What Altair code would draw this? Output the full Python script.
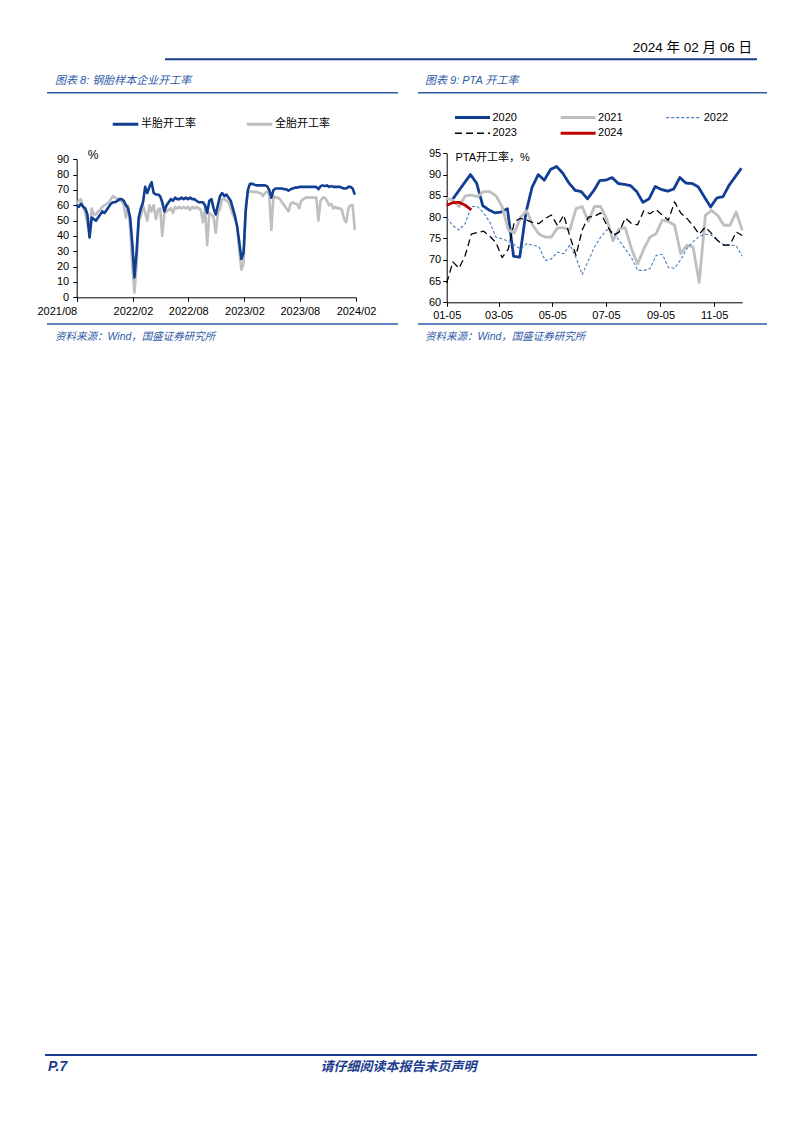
import altair as alt
import pandas as pd

# ------------------------------------------------------------------ page texts
report_date = "2024 年 02 月 06 日"
fig8_title = "图表 8: 钢胎样本企业开工率"
fig9_title = "图表 9: PTA 开工率"
source_note = "资料来源：Wind，国盛证券研究所"
page_label = "P.7"
footer_note = "请仔细阅读本报告末页声明"

# ------------------------------------------------------------------ chart 8 data (weekly)
tyre_series = ["半胎开工率", "全胎开工率"]
tyre_start = "2021-08-01"
semi_steel = [60, 59, 61, 59, 58, 54, 39, 52, 51, 50,
              52, 54, 56, 55, 57, 59, 61, 62, 62, 63,
              64, 64, 63, 60, 58, 52, 35, 13, 30, 52,
              58, 62, 72, 68, 72, 75, 68, 67, 67, 66,
              62, 56, 60, 62, 64, 63, 65, 64, 64, 65,
              64, 65, 64, 65, 64, 64, 63, 62, 62, 62,
              60, 55, 63, 64, 58, 54, 60, 66, 68, 66,
              67, 65, 63, 58, 53, 46, 36, 25, 29, 56,
              70, 74, 74, 73.5, 73, 73, 73, 73, 73, 72.5,
              70, 65, 70, 71, 71, 71, 71, 70.5, 70.5, 69.5,
              70.5, 71, 71.5, 71.5, 72, 72, 72, 72, 72, 72,
              72, 72, 72, 70.5, 72.5, 73, 72.5, 73, 72, 72.5,
              72, 72, 72, 72, 71.5, 71, 71, 72, 72, 71,
              67]
all_steel = [61, 63, 64, 59, 55, 48, 41, 58, 54, 54,
             56, 57, 59, 60, 61, 62, 64, 66, 65, 64,
             63, 63, 60, 52, 60, 45, 20, 3, 22, 50,
             53, 60, 55, 50, 60, 56, 60, 51, 57, 58,
             40, 55, 56, 57, 58, 55, 59, 58, 59, 58,
             59, 58, 59, 57, 59, 58, 59, 58, 57, 49,
             58, 34, 55, 54, 52, 42, 55, 58, 64, 64,
             63, 62, 58, 54, 51, 47, 30, 18, 22, 60,
             68, 69, 69, 68.5, 69, 68, 68, 66, 68, 69,
             67, 44, 66, 65, 65, 64, 62, 60, 58, 56,
             61, 62, 61, 61, 58, 63, 64, 65, 65, 65,
             65, 65, 65, 50, 63, 65, 65, 63, 60, 61,
             58, 59, 58, 58, 57, 51, 49, 58, 60, 60,
             44]
tyre_unit = "%"
tyre_axis_range = ["2021-08-01", "2024-02-01"]
tyre_ticks = ["2021-08-01", "2022-02-01", "2022-08-01", "2023-02-01", "2023-08-01", "2024-02-01"]
tyre_y_ticks = [0, 10, 20, 30, 40, 50, 60, 70, 80, 90]

# ------------------------------------------------------------------ chart 9 data (weekly, one axis year)
pta_years = ["2020", "2021", "2022", "2023", "2024"]
pta_starts = ["2001-01-11", "2001-01-05", "2001-01-05", "2001-01-05", "2001-01-05"]
pta_2020 = [84, 86, 88, 90, 88, 82.7, 81.7, 81, 81.2, 82,
            70.8, 70.6, 81, 87, 90, 88.7, 91.2, 91.9, 90.3, 88,
            86.3, 86, 84.3, 86.2, 88.6, 88.7, 89.3, 87.9, 87.7, 87.4,
            86, 83.5, 84.3, 87.2, 86.5, 86.1, 86.6, 89.3, 88, 87.9,
            87.1, 84.7, 82.4, 84.5, 84.8, 87.5, 89.5, 91.5]
pta_2021 = [84.4, 84, 82.5, 85, 85.2, 84.8, 86, 86, 85, 82.5,
            77, 76.3, 80, 81.5, 78, 76, 75.3, 75.3, 77.5, 77.5,
            77, 82, 82.5, 79, 82.5, 82.5, 79.5, 74.5, 77.3, 77.5,
            72.6, 69, 72.5, 75.3, 76.1, 79.3, 79, 78.1, 71.4, 73.4,
            73, 64.7, 80.4, 81.6, 80.4, 78.1, 78.1, 81.2, 76.9]
pta_2022 = [79.8, 78, 77, 78.5, 82.5, 82.5, 81, 78.8, 75.3, 74.9,
            74.3, 73.5, 72.5, 73.8, 73.4, 73, 69.8, 70.2, 71.8, 71.4,
            73.5, 70.5, 66.5, 69.8, 73, 75.3, 77, 76.5, 74.5, 72.5,
            70.5, 67.5, 67.5, 67.9, 71, 71.3, 68.2, 68, 70, 72.6,
            74.2, 75.5, 76, 75.8, 74.5, 73.5, 73.4, 73.3, 70.8]
pta_2023 = [64.5, 69.5, 68, 71, 76, 76.4, 76.7, 75.5, 74, 70.5,
            72.5, 79, 79.7, 79.3, 78.7, 78.5, 79.7, 80.5, 78, 80.5,
            75.5, 71, 77, 80, 80.2, 81, 78.1, 75.7, 76.5, 79.8,
            78.5, 78.2, 81.5, 80.8, 81.8, 80.5, 79.3, 83.6, 81, 79.7,
            78, 76, 77.7, 76.2, 74.5, 73.4, 73.5, 76.5, 75.7]
pta_2024 = [82.8, 83.4, 83.5, 82.8, 81.7]
pta_title = "PTA开工率，%"
pta_axis_range = ["2001-01-05", "2001-12-07"]
pta_ticks = ["2001-01-05", "2001-03-05", "2001-05-05", "2001-07-05", "2001-09-05", "2001-11-05"]
pta_y_ticks = [60, 65, 70, 75, 80, 85, 90, 95]

# ------------------------------------------------------------------ styles
FONT = "Liberation Sans, Arial, Noto Sans CJK SC, sans-serif"
NAVY = "#1b3c8c"
TITLE_BLUE = "#2f5aa6"
TYRE_COLORS = ["#0f3e93", "#bfbfbf"]
PTA_COLORS = ["#0f3e93", "#bfbfbf", "#4a7cc0", "#000000", "#c00000"]
PTA_WIDTHS = [2.8, 2.8, 1.1, 1.3, 2.8]
PTA_DASHES = [[1, 0], [1, 0], [3, 2], [7, 4], [1, 0]]

W, H = 786, 1110  # drawing area (page minus 8px margins)


def dt(s):
    y, m, d = (int(v) for v in s.split("-"))
    return alt.DateTime(year=y, month=m, date=d, utc=True)


def weekly_frame(key, label, start, values):
    dates = pd.date_range(start, periods=len(values), freq="7D").strftime("%Y-%m-%d")
    return pd.DataFrame({"date": list(dates), "value": values, key: label})


def text_layer(text, x, y, size, color="#000000", align="left", style="normal", weight="normal"):
    return alt.Chart(alt.Data(values=[{"t": text}])).mark_text(
        align=align, baseline="middle", fontSize=size, color=color,
        fontStyle=style, fontWeight=weight, font=FONT
    ).encode(text="t:N", x=alt.value(x), y=alt.value(y))


def rule_layer(x1, x2, y, color, width):
    return alt.Chart(alt.Data(values=[{"r": 0}])).mark_rule(
        color=color, strokeWidth=width
    ).encode(x=alt.value(x1), x2=alt.value(x2), y=alt.value(y))


# ------------------------------------------------------------------ chart 8
tyre_df = pd.concat([
    weekly_frame("series", tyre_series[1], tyre_start, all_steel),
    weekly_frame("series", tyre_series[0], tyre_start, semi_steel),
])
first_tick_ms = int(pd.Timestamp(tyre_ticks[0], tz="UTC").value // 10**6)

x8 = alt.X("date:T", title=None,
           scale=alt.Scale(type="utc", domain=[dt(s) for s in tyre_axis_range], range=[68.7, 348]),
           axis=alt.Axis(orient="bottom", offset=289.3 - H, values=[dt(s) for s in tyre_ticks],
                         format="%Y/%m", labelFlush=False, labelOverlap=False, tickSize=4, labelPadding=4,
                         labelAlign={"condition": {"test": f"datum.value < {first_tick_ms + 86400000 * 20}",
                                                   "value": "right"}, "value": "center"}))
y8 = alt.Y("value:Q", title=tyre_unit,
           scale=alt.Scale(domain=[0, 90], range=[289.3, 151.3], nice=False, zero=False),
           axis=alt.Axis(orient="left", offset=-68.7, values=tyre_y_ticks, tickSize=4, labelPadding=4,
                         titleAngle=0, titleX=16, titleY=146.3, titleAlign="center",
                         titleBaseline="middle", titleFontSize=12))
c8 = alt.Color("series:N",
               scale=alt.Scale(domain=tyre_series, range=TYRE_COLORS),
               legend=alt.Legend(title=None, orient="none", legendX=103, legendY=108.8,
                                 direction="horizontal", symbolType="stroke", symbolSize=655,
                                 symbolStrokeWidth=3, clipHeight=15, labelOffset=1, columnPadding=49,
                                 labelFont=FONT, labelFontSize=11, labelColor="#000000", padding=0))

tyre_layers = [
    alt.Chart(tyre_df).transform_filter(alt.datum.series == s)
    .mark_line(strokeWidth=2.6, strokeJoin="round").encode(x=x8, y=y8, color=c8)
    for s in [tyre_series[1], tyre_series[0]]
]
tyre_chart = alt.layer(*tyre_layers)

# ------------------------------------------------------------------ chart 9
pta_values = [pta_2020, pta_2021, pta_2022, pta_2023, pta_2024]
pta_df = pd.concat([weekly_frame("year", yr, st, vals)
                    for yr, st, vals in zip(pta_years, pta_starts, pta_values)])

x9 = alt.X("date:T", title=None,
           scale=alt.Scale(type="utc", domain=[dt(s) for s in pta_axis_range], range=[438.7, 734.3]),
           axis=alt.Axis(orient="bottom", offset=294.3 - H, values=[dt(s) for s in pta_ticks],
                         format="%m-%d", labelFlush=False, labelOverlap=False, tickSize=4, labelPadding=3))
y9 = alt.Y("value:Q", title=pta_title,
           scale=alt.Scale(domain=[60, 95], range=[294.3, 145.3], nice=False, zero=False),
           axis=alt.Axis(orient="left", offset=-438.7, values=pta_y_ticks, tickSize=4, labelPadding=2,
                         titleAngle=0, titleX=8.3, titleY=149.3, titleAlign="left",
                         titleBaseline="middle", titleFontSize=11))
c9 = alt.Color("year:N",
               scale=alt.Scale(domain=pta_years, range=PTA_COLORS),
               legend=alt.Legend(title=None, orient="none", legendX=445.5, legendY=101.6, columns=3,
                                 direction="horizontal",
                                 symbolType="stroke", symbolSize=1225,
                                 symbolStrokeWidth={"expr": "(datum.value === '2022' ? 1.2 : (datum.value === '2023' ? 1.6 : 3))"},
                                 symbolDash={"expr": "(datum.value === '2022' ? [3, 2] : (datum.value === '2023' ? [7, 4] : [1, 0]))"},
                                 clipHeight=15.4, labelOffset=1, columnPadding=41.6, rowPadding=0,
                                 labelFont=FONT, labelFontSize=11, labelColor="#000000", padding=0))

pta_layers = [
    alt.Chart(pta_df).transform_filter(alt.datum.year == yr)
    .mark_line(strokeWidth=w, strokeDash=d, strokeJoin="round").encode(x=x9, y=y9, color=c9)
    for yr, w, d in zip(pta_years, PTA_WIDTHS, PTA_DASHES)
]
pta_chart = alt.layer(*pta_layers)

# ------------------------------------------------------------------ page furniture
decor = [
    text_layer(report_date, 744, 40, 13.5, align="right"),
    rule_layer(157, 749, 51.3, NAVY, 2),
    text_layer(fig8_title, 47, 73, 11, color=TITLE_BLUE, style="italic"),
    text_layer(fig9_title, 417, 73, 11, color=TITLE_BLUE, style="italic"),
    rule_layer(39, 390, 84.7, TITLE_BLUE, 1.5),
    rule_layer(410, 759, 84.7, TITLE_BLUE, 1.5),
    rule_layer(39, 390, 316, TITLE_BLUE, 1.5),
    rule_layer(410, 759, 316, TITLE_BLUE, 1.5),
    text_layer(source_note, 47, 329, 10.5, color=TITLE_BLUE, style="italic"),
    text_layer(source_note, 417, 329, 10.5, color=TITLE_BLUE, style="italic"),
    rule_layer(37, 749, 1047, NAVY, 2),
    text_layer(page_label, 40, 1058.5, 14, color=NAVY, style="italic", weight="bold"),
    text_layer(footer_note, 390.5, 1058.5, 13, color=NAVY, align="center", style="italic", weight="bold"),
]

chart = (
    alt.layer(*decor, tyre_chart, pta_chart)
    .resolve_scale(x="independent", y="independent", color="independent")
    .resolve_legend(color="independent")
    .properties(width=W, height=H, padding=0, autosize=alt.AutoSizeParams(type="none"))
    .configure_view(stroke=None)
    .configure_axis(grid=False, labelFont=FONT, labelFontSize=11, labelColor="#000000",
                    domainColor="#000000", tickColor="#000000", domainWidth=1, tickWidth=1,
                    titleFont=FONT, titleFontWeight="normal", titleColor="#000000")
)

chart.save("out.html", embed_options={"renderer": "svg", "actions": False})
